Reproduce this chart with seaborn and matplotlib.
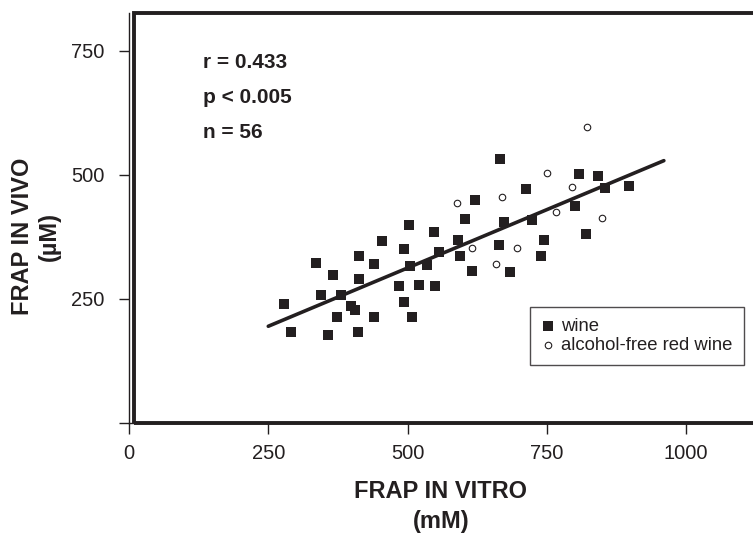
import numpy as np
import pandas as pd
import matplotlib
matplotlib.use("Agg")
import matplotlib.pyplot as plt
from matplotlib.patches import Rectangle
import seaborn as sns

# FRAP values
wine_vitro = [279, 290, 336, 345, 358, 366, 374, 381, 398, 406, 413, 413, 411, 440,
              440, 454, 484, 493, 493, 502, 505, 508, 521, 534, 547, 549, 557, 591,
              594, 666, 621, 603, 712, 807, 841, 855, 898, 673, 723, 800, 664, 745,
              739, 820, 615, 684]
wine_vivo = [240, 182, 323, 257, 177, 297, 213, 258, 236, 227, 336, 289, 182, 320,
             213, 366, 276, 351, 243, 398, 316, 213, 278, 318, 385, 276, 344, 368,
             336, 533, 450, 411, 472, 501, 498, 474, 478, 405, 408, 437, 359, 368,
             336, 380, 306, 304]
afree_vitro = [588, 670, 751, 795, 767, 849, 615, 697, 659, 822]
afree_vivo = [444, 456, 504, 475, 425, 413, 353, 352, 321, 597]

stats_lines = ["r = 0.433", "p < 0.005", "n = 56"]
x_ticks = [0, 250, 500, 750, 1000]
y_ticks = [0, 250, 500, 750]
y_tick_labels = ["", "250", "500", "750"]
fit_range = [250, 960]

ink = "#231f20"

sns.set_theme(style="white")
plt.rcParams["font.family"] = ["Liberation Sans", "DejaVu Sans"]

df_wine = pd.DataFrame({"vitro": wine_vitro, "vivo": wine_vivo})
df_free = pd.DataFrame({"vitro": afree_vitro, "vivo": afree_vivo})

fig = plt.figure(figsize=(7.53, 5.35), dpi=100)
ax = fig.add_axes([129 / 753, (535 - 422.7) / 535, 1 - 129 / 753, 409.4 / 535])

sns.scatterplot(data=df_wine, x="vitro", y="vivo", marker="s", s=44,
                color=ink, edgecolor=ink, linewidth=0, ax=ax, label="wine",
                zorder=3)
sns.scatterplot(data=df_free, x="vitro", y="vivo", marker="o", s=22,
                facecolor="white", edgecolor=ink, linewidth=0.8, ax=ax,
                label="alcohol-free red wine", zorder=3)

# regression line over all 56 samples
all_x = np.array(wine_vitro + afree_vitro)
all_y = np.array(wine_vivo + afree_vivo)
slope, intercept = np.polyfit(all_x, all_y, 1)
fx = np.array(fit_range)
ax.plot(fx, slope * fx + intercept, color=ink, lw=2.6, zorder=4)

ax.set_xlim(0, 1120)
ax.set_ylim(0, 826)
ax.set_xticks(x_ticks)
ax.set_yticks(y_ticks)
ax.set_yticklabels(y_tick_labels)
ax.tick_params(axis="x", direction="out", length=8, width=1, color=ink,
               labelsize=14.5, pad=7, labelcolor=ink, bottom=True)
ax.tick_params(axis="y", direction="out", length=7.5, width=1, color=ink,
               labelsize=14.5, pad=10, labelcolor=ink, left=True)

for side in ["top", "right"]:
    ax.spines[side].set_visible(False)
for side in ["left", "bottom"]:
    ax.spines[side].set_color(ink)
    ax.spines[side].set_linewidth(1.0)

# heavy frame offset from the thin axis lines
ax.add_patch(Rectangle((9, 0), 2000, 826, fill=False, lw=2.8, ec=ink,
                       transform=ax.transData, clip_on=False, zorder=5))

for i, line in enumerate(stats_lines):
    ax.text(0.1186, 0.879 - i * 0.0855, line, transform=ax.transAxes,
            fontsize=15, fontweight="bold", color=ink, va="center", ha="left")

ax.set_xlabel("FRAP IN VITRO\n(mM)", fontsize=17, fontweight="bold",
              color=ink, linespacing=1.38)
ax.xaxis.set_label_coords(0.5, -0.14)
ax.set_ylabel("FRAP IN VIVO\n(µM)", fontsize=17, fontweight="bold",
              color=ink, linespacing=1.2)
ax.yaxis.label.set_va("center")
ax.yaxis.set_label_coords(-0.149, 0.455)

leg = ax.legend(loc="upper left", bbox_to_anchor=(0.6426, 0.283),
                fontsize=13.3, frameon=True, fancybox=False, edgecolor=ink,
                handletextpad=0.3, handlelength=0.8, labelspacing=0.1,
                borderpad=0.6, borderaxespad=0)
leg.get_frame().set_linewidth(1.0)
for t in leg.get_texts():
    t.set_color(ink)

fig.savefig("out.png", dpi=100, facecolor="white")
